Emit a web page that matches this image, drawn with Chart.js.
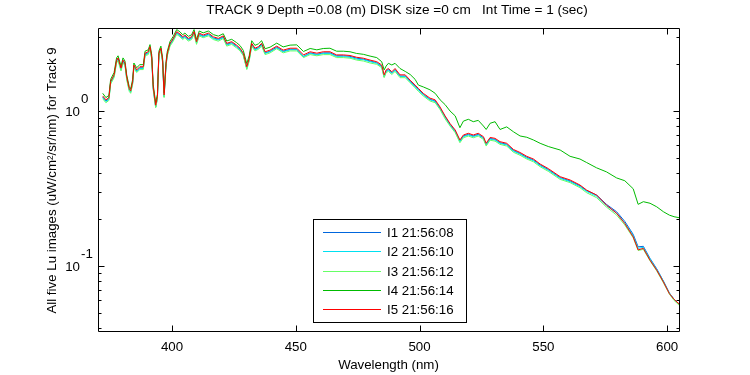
<!DOCTYPE html>
<html>
<head>
<meta charset="utf-8">
<script src="https://cdn.jsdelivr.net/npm/chart.js@4.4.1/dist/chart.umd.min.js"></script>
<style>
  html, body { margin: 0; padding: 0; background: #fff; }
  canvas { display: block; }
</style>
</head>
<body>
<canvas id="chart" width="750" height="375"></canvas>
<script>
// wavelength grid (nm)
const wavelength = [
  372.0, 373.3, 374.5, 375.2, 376.6, 377.6, 378.2, 379.4, 380.2, 381.0,
  381.7, 382.7, 383.3, 384.1, 384.6, 385.7, 387.0, 388.4, 389.1, 390.4,
  391.1, 391.8, 392.4, 393.4, 394.1, 394.7, 395.5, 396.2, 396.8, 397.6,
  398.1, 399.2, 400.5, 401.9, 403.2, 404.3, 405.2, 406.6, 407.9, 408.9,
  409.9, 411.0, 412.6, 414.7, 416.7, 418.7, 420.7, 422.1, 424.1, 426.1,
  427.5, 428.8, 430.2, 431.2, 432.2, 433.5, 434.9, 436.2, 437.6, 439.6,
  442.3, 444.9, 447.7, 450.4, 453.1, 455.8, 458.5, 461.1, 463.8, 466.5,
  469.2, 471.9, 474.6, 477.3, 480.0, 482.7, 484.7, 485.7, 486.5, 487.4,
  488.8, 490.1, 492.1, 494.2, 496.2, 498.2, 499.5, 501.5, 504.2, 506.3,
  508.3, 510.3, 512.3, 514.4, 516.3, 517.7, 519.7, 521.7, 523.7, 525.8,
  526.9, 528.5, 530.5, 532.5, 535.2, 537.9, 540.6, 543.3, 546.0, 548.7,
  552.0, 556.8, 560.8, 564.8, 567.5, 571.5, 575.5, 579.6, 582.9, 586.3,
  588.3, 590.4, 593.1, 595.8, 598.5, 600.9, 602.8, 604.8
];

const seriesNames = ['I1 21:56:08', 'I2 21:56:10', 'I3 21:56:12', 'I4 21:56:14', 'I5 21:56:16'];
const seriesColors = ['#0066dd', '#00e0f0', '#66ff66', '#00bb00', '#ff0000'];

const lu1 = [
  1.23,1.16,1.20,1.53,1.68,2.10,2.17,1.86,2.10,2.01,
  1.64,1.38,1.33,1.53,1.95,1.81,1.90,1.90,2.32,2.37,
  2.56,2.21,1.41,1.06,1.22,2.32,2.50,2.10,1.24,2.00,
  2.32,2.69,2.90,3.20,3.09,2.96,3.04,2.90,2.96,3.20,
  2.76,3.13,3.04,3.13,2.96,2.90,3.00,2.69,2.76,2.62,
  2.50,2.32,1.88,2.16,2.69,2.50,2.56,2.69,2.37,2.43,
  2.58,2.43,2.50,2.50,2.25,2.37,2.32,2.37,2.37,2.27,
  2.27,2.25,2.19,2.16,2.10,2.05,1.94,1.66,1.81,1.85,
  1.76,1.85,1.68,1.68,1.56,1.45,1.38,1.28,1.19,1.16,
  1.04,0.92,0.82,0.742,0.64,0.69,0.707,0.69,0.707,0.672,
  0.605,0.665,0.656,0.624,0.61,0.557,0.532,0.503,0.483,0.449,
  0.419,0.372,0.354,0.329,0.306,0.287,0.25,0.224,0.194,0.160,
  0.133,0.134,0.112,0.096,0.080,0.067,0.061,0.057
];
const lu2 = [
  1.22,1.15,1.19,1.51,1.67,2.08,2.15,1.84,2.08,1.99,
  1.62,1.37,1.32,1.51,1.93,1.79,1.88,1.88,2.30,2.35,
  2.54,2.18,1.39,1.06,1.21,2.30,2.48,2.08,1.24,1.98,
  2.30,2.66,2.87,3.17,3.06,2.93,3.01,2.87,2.93,3.17,
  2.73,3.10,3.01,3.10,2.93,2.87,2.97,2.66,2.73,2.59,
  2.48,2.30,1.88,2.14,2.66,2.48,2.54,2.66,2.35,2.41,
  2.55,2.41,2.48,2.48,2.24,2.35,2.30,2.35,2.35,2.24,
  2.24,2.22,2.16,2.14,2.08,2.03,1.93,1.67,1.79,1.83,
  1.75,1.83,1.67,1.67,1.54,1.43,1.37,1.27,1.18,1.15,
  1.03,0.91,0.81,0.735,0.634,0.683,0.70,0.683,0.70,0.666,
  0.604,0.658,0.65,0.618,0.604,0.551,0.527,0.497,0.478,0.444,
  0.415,0.368,0.35,0.325,0.303,0.282,0.245,0.219,0.19,0.157,
  0.13,0.132,0.111,0.095,0.080,0.067,0.061,0.057
];
const lu3 = [
  1.20,1.13,1.17,1.49,1.64,2.04,2.11,1.81,2.04,1.96,
  1.59,1.34,1.30,1.49,1.90,1.77,1.85,1.85,2.27,2.31,
  2.50,2.15,1.37,1.05,1.19,2.27,2.44,2.04,1.22,1.95,
  2.27,2.62,2.82,3.12,3.01,2.89,2.97,2.82,2.89,3.12,
  2.69,3.05,2.97,3.05,2.89,2.82,2.93,2.62,2.69,2.55,
  2.44,2.27,1.85,2.10,2.62,2.44,2.50,2.62,2.31,2.37,
  2.52,2.37,2.44,2.44,2.21,2.31,2.27,2.31,2.31,2.21,
  2.21,2.19,2.13,2.10,2.04,2.00,1.90,1.64,1.77,1.80,
  1.72,1.80,1.64,1.64,1.52,1.41,1.34,1.25,1.16,1.13,
  1.02,0.89,0.80,0.724,0.624,0.672,0.689,0.672,0.689,0.656,
  0.594,0.648,0.639,0.609,0.594,0.542,0.518,0.49,0.47,0.437,
  0.408,0.362,0.345,0.32,0.297,0.276,0.24,0.213,0.184,0.152,
  0.126,0.128,0.108,0.093,0.078,0.066,0.060,0.056
];
const lu4 = [
  1.30,1.22,1.26,1.60,1.77,2.20,2.27,1.95,2.20,2.10,
  1.71,1.44,1.39,1.60,2.04,1.90,1.99,1.99,2.43,2.48,
  2.68,2.31,1.48,1.13,1.28,2.43,2.62,2.20,1.31,2.09,
  2.43,2.81,3.03,3.35,3.24,3.10,3.18,3.03,3.10,3.35,
  2.89,3.28,3.19,3.28,3.11,3.04,3.15,2.83,2.90,2.76,
  2.64,2.46,2.02,2.28,2.84,2.65,2.71,2.84,2.52,2.58,
  2.74,2.59,2.66,2.67,2.42,2.53,2.48,2.53,2.54,2.43,
  2.43,2.41,2.35,2.32,2.26,2.21,2.08,1.84,1.95,2.03,
  1.98,2.03,1.88,1.80,1.72,1.60,1.47,1.43,1.37,1.30,
  1.18,1.10,1.00,0.93,0.78,0.86,0.884,0.853,0.87,0.80,
  0.76,0.833,0.853,0.76,0.79,0.735,0.69,0.677,0.65,0.619,
  0.59,0.56,0.51,0.49,0.465,0.43,0.405,0.37,0.355,0.315,
  0.25,0.26,0.254,0.241,0.224,0.213,0.208,0.205
];
const lu5 = [
  1.25,1.18,1.22,1.55,1.71,2.13,2.20,1.89,2.13,2.04,
  1.66,1.40,1.35,1.55,1.98,1.84,1.93,1.93,2.36,2.41,
  2.60,2.24,1.43,1.09,1.24,2.36,2.54,2.13,1.27,2.03,
  2.36,2.73,2.94,3.25,3.14,3.01,3.09,2.94,3.01,3.25,
  2.80,3.18,3.09,3.18,3.01,2.94,3.05,2.73,2.80,2.66,
  2.54,2.36,1.93,2.19,2.73,2.54,2.60,2.73,2.41,2.47,
  2.62,2.47,2.54,2.54,2.30,2.41,2.36,2.41,2.41,2.30,
  2.30,2.28,2.22,2.19,2.13,2.08,1.98,1.71,1.84,1.88,
  1.79,1.88,1.71,1.71,1.58,1.47,1.40,1.30,1.21,1.18,
  1.06,0.93,0.83,0.754,0.65,0.70,0.718,0.70,0.718,0.683,
  0.619,0.675,0.666,0.634,0.619,0.565,0.54,0.51,0.49,0.455,
  0.425,0.377,0.359,0.333,0.309,0.287,0.247,0.219,0.188,0.154,
  0.127,0.130,0.109,0.094,0.079,0.0664,0.061,0.057
];

const xTicks = [400, 450, 500, 550, 600];
const yMajorTicks = [0.1, 1];
const yExponents = ['-1', '0'];
const yMinorTicks = [0.04, 0.05, 0.06, 0.07, 0.08, 0.09, 0.2, 0.3, 0.4, 0.5, 0.6, 0.7, 0.8, 0.9, 2, 3];

const FONT = '"Liberation Sans", Arial, Helvetica, sans-serif';
const allSeries = [lu1, lu2, lu3, lu4, lu5];

const datasets = allSeries.map((vals, i) => ({
    label: seriesNames[i],
    data: wavelength.map((w, j) => ({ x: w, y: vals[j] })),
    borderColor: seriesColors[i],
    borderWidth: 1,
    pointRadius: 0,
    tension: 0,
    fill: false,
    order: 4 - i   // last series ends up on top, like matlab
}));

// axes box, inward ticks, labels, legend
const matlabFrame = {
    id: 'matlabFrame',
    afterDraw(chart) {
        const { ctx, chartArea: a, scales } = chart;
        const x = scales.x, y = scales.y;
        const L = a.left + 0.5, R = a.right + 0.5, T = a.top + 0.5, B = a.bottom + 0.5;
        ctx.save();
        ctx.strokeStyle = '#000';
        ctx.fillStyle = '#000';
        ctx.lineWidth = 1;

        ctx.beginPath();
        ctx.rect(L, T, R - L, B - T);
        ctx.stroke();

        ctx.beginPath();
        xTicks.forEach(v => {
            const px = Math.round(x.getPixelForValue(v)) + 0.5;
            ctx.moveTo(px, B); ctx.lineTo(px, B - 6);
            ctx.moveTo(px, T); ctx.lineTo(px, T + 6);
        });
        yMajorTicks.forEach(v => {
            const py = Math.round(y.getPixelForValue(v)) + 0.5;
            ctx.moveTo(L, py); ctx.lineTo(L + 6, py);
            ctx.moveTo(R, py); ctx.lineTo(R - 6, py);
        });
        yMinorTicks.forEach(v => {
            const py = Math.round(y.getPixelForValue(v)) + 0.5;
            ctx.moveTo(L, py); ctx.lineTo(L + 3, py);
            ctx.moveTo(R, py); ctx.lineTo(R - 3, py);
        });
        ctx.stroke();

        // tick labels
        const f = '13.3px ' + FONT;
        ctx.font = f;
        ctx.textAlign = 'center';
        ctx.textBaseline = 'alphabetic';
        xTicks.forEach(v => {
            ctx.fillText(String(v), x.getPixelForValue(v), a.bottom + 20);
        });
        yMajorTicks.forEach((v, i) => {
            const py = y.getPixelForValue(v);
            ctx.textAlign = 'right';
            ctx.fillText('10', 80, py + 5);
            ctx.textAlign = 'left';
            ctx.fillText(yExponents[i], 81, py - 8);
        });

        // titles
        ctx.textAlign = 'center';
        ctx.font = '13.6px ' + FONT;
        ctx.fillText('TRACK 9 Depth =0.08 (m) DISK size =0 cm   Int Time = 1 (sec)', 397, 14);
        ctx.font = f;
        ctx.fillText('Wavelength (nm)', (a.left + a.right) / 2, 369);
        ctx.save();
        ctx.translate(56, (a.top + a.bottom) / 2 + 1);
        ctx.rotate(-Math.PI / 2);
        ctx.fillText('All five Lu images (uW/cm\u00B2/sr/nm) for Track 9', 0, 0);
        ctx.restore();

        // legend
        ctx.fillStyle = '#fff';
        ctx.fillRect(313.5, 219.5, 153, 103);
        ctx.strokeStyle = '#000';
        ctx.strokeRect(313.5, 219.5, 153, 103);
        ctx.textAlign = 'left';
        ctx.textBaseline = 'middle';
        seriesNames.forEach((name, i) => {
            const ry = Math.round(232 + i * 19.25);
            ctx.fillStyle = seriesColors[i];
            ctx.fillRect(323, ry, 58, 1);
            ctx.fillStyle = '#000';
            ctx.fillText(name, 387, ry + 1.5);
        });
        ctx.restore();
    }
};

new Chart(document.getElementById('chart'), {
    type: 'line',
    data: { datasets: datasets },
    options: {
        responsive: false,
        animation: false,
        layout: { padding: { left: 98, right: 71, top: 28, bottom: 44 } },
        plugins: {
            legend: { display: false },
            tooltip: { enabled: false },
            title: { display: false }
        },
        scales: {
            x: { type: 'linear', min: 370.1, max: 604.8, display: false },
            y: { type: 'logarithmic', min: 0.0381, max: 3.43, display: false }
        }
    },
    plugins: [matlabFrame]
});
</script>
</body>
</html>
